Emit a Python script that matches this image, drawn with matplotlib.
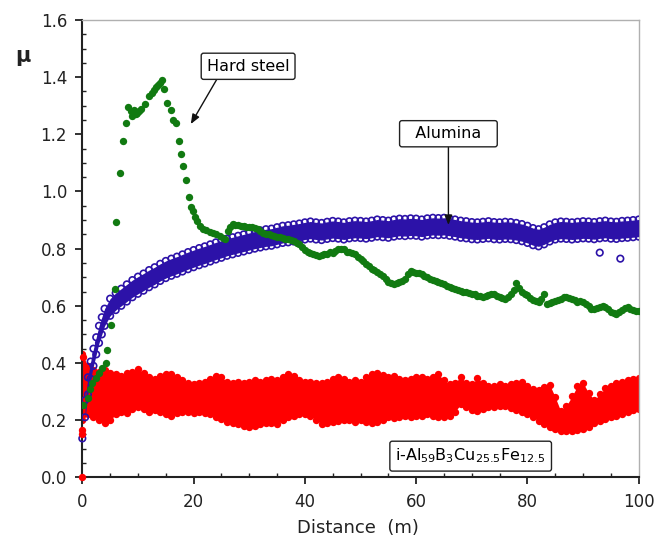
import matplotlib
matplotlib.use("Agg")
import matplotlib.pyplot as plt
from matplotlib.ticker import MultipleLocator, FormatStrFormatter

plt.rcParams['font.family'] = ['DejaVu Sans']
plt.rcParams['mathtext.default'] = 'regular'

# ---------------- data ----------------
# Hard steel (green filled circles)
steel_x = [0.1, 1.0, 1.3, 1.8, 2.4, 3.0, 3.6, 4.2, 4.5, 5.2, 5.8, 6.1, 6.8, 7.3, 7.8, 8.3,
           8.7, 9.0, 9.3, 9.6, 9.9, 10.2, 10.6, 11.3, 11.9, 12.5, 12.8, 13.3, 13.6, 14.0, 14.3,
           14.65, 15.3, 15.9, 16.3, 16.9, 17.35, 17.65, 18.1, 18.7, 19.2, 19.6, 19.9, 20.3,
           20.7, 21.2, 21.7, 22.3, 22.9, 23.5, 24.1, 24.7, 25.3, 25.7, 26.1, 26.5, 27.0, 27.5,
           28.0, 28.5, 29.0, 29.5, 30.0, 30.5, 31.0, 31.5, 32.0, 32.5,
           33.0, 33.5, 34.0, 34.5, 35.0, 35.5, 36.0, 36.5, 37.0, 37.5, 38.0, 38.5, 39.0, 39.5,
           40.0, 40.5, 41.0, 41.5, 42.0, 42.5, 43.0, 43.5, 44.0, 44.5, 45.0, 45.5, 46.0, 46.5,
           47.0, 47.5, 48.0, 48.5, 49.0, 49.5, 50.0, 50.5, 51.0, 51.5, 52.0, 52.5, 53.0, 53.5,
           54.0, 54.5, 55.0, 55.5, 56.0, 56.5, 57.0, 57.5, 58.0, 58.5, 59.0, 59.5, 60.0, 60.5,
           61.0, 61.5, 62.0, 62.5, 63.0, 63.5, 64.0, 64.5, 65.0, 65.5, 66.0, 66.5, 67.0, 67.5,
           68.0, 68.5, 69.0, 69.5, 70.0, 70.5, 71.0, 71.5, 72.0, 72.5, 73.0, 73.5, 74.0, 74.5,
           75.0, 75.5, 76.0, 76.5, 77.0, 77.5, 78.0, 78.5, 79.0, 79.5, 80.0, 80.5, 81.0, 81.5,
           82.0, 82.5, 83.0, 83.5, 84.0, 84.5, 85.0, 85.5, 86.0, 86.5, 87.0, 87.5, 88.0, 88.5,
           89.0, 89.5, 90.0, 90.5, 91.0, 91.5, 92.0, 92.5, 93.0, 93.5, 94.0, 94.5, 95.0, 95.5,
           96.0, 96.5, 97.0, 97.5, 98.0, 98.5, 99.0, 99.5, 100.0]
steel_y = [0.253, 0.276, 0.31, 0.329, 0.347, 0.364, 0.381, 0.399, 0.445, 0.532, 0.658, 0.894,
           1.064, 1.178, 1.238, 1.297, 1.28, 1.265, 1.285, 1.27, 1.275, 1.28, 1.29, 1.306,
           1.335, 1.345, 1.355, 1.365, 1.372, 1.38, 1.39, 1.357, 1.31, 1.285, 1.25, 1.24,
           1.178, 1.131, 1.09, 1.039, 0.981, 0.945, 0.93, 0.91, 0.895, 0.88, 0.87, 0.865,
           0.859, 0.855, 0.85, 0.845, 0.838, 0.832, 0.86, 0.876, 0.886, 0.884, 0.882, 0.88,
           0.879, 0.876, 0.875, 0.874, 0.872, 0.868, 0.862, 0.855,
           0.852, 0.85, 0.846, 0.843, 0.842, 0.84, 0.838, 0.835, 0.832, 0.83, 0.826, 0.82,
           0.815, 0.805, 0.795, 0.79, 0.785, 0.781, 0.779, 0.776, 0.777, 0.781, 0.783, 0.787,
           0.786, 0.792, 0.797, 0.80, 0.798, 0.79, 0.787, 0.784, 0.78, 0.772, 0.765, 0.757,
           0.748, 0.738, 0.73, 0.724, 0.718, 0.71, 0.705, 0.695, 0.682, 0.679, 0.678, 0.68,
           0.683, 0.688, 0.695, 0.71, 0.722, 0.718, 0.715, 0.716, 0.713, 0.705, 0.70, 0.695,
           0.69, 0.688, 0.685, 0.68, 0.675, 0.67, 0.665, 0.661, 0.658, 0.655, 0.652, 0.65,
           0.648, 0.645, 0.643, 0.64, 0.636, 0.633, 0.631, 0.634, 0.637, 0.641, 0.643, 0.636,
           0.63, 0.626, 0.623, 0.63, 0.64, 0.655, 0.68, 0.662, 0.65, 0.643, 0.637, 0.628,
           0.62, 0.616, 0.614, 0.625, 0.643, 0.605, 0.61, 0.614, 0.618, 0.622, 0.625, 0.63,
           0.632, 0.628, 0.625, 0.62, 0.615, 0.616, 0.614, 0.605, 0.598, 0.59, 0.588, 0.592,
           0.595, 0.598, 0.596, 0.588, 0.58, 0.576, 0.573, 0.578, 0.585, 0.592, 0.596, 0.59,
           0.585, 0.583, 0.581]

# Alumina (blue open circles): band upper / lower edges
alu_x = [0.5, 1, 1.5, 2, 2.5, 3, 3.5, 4] + list(range(5, 101))
alu_top = [0.27, 0.35, 0.405, 0.45, 0.49, 0.53, 0.56, 0.59,
           0.625, 0.645, 0.66, 0.675, 0.69, 0.702, 0.713, 0.725, 0.735, 0.747, 0.757, 0.765,
           0.772, 0.78, 0.788, 0.795, 0.802, 0.808, 0.815, 0.822, 0.828, 0.835, 0.84, 0.845,
           0.85, 0.855, 0.86, 0.864, 0.868, 0.87, 0.875, 0.88, 0.882, 0.885, 0.888, 0.892,
           0.895, 0.892, 0.89, 0.894, 0.897, 0.895, 0.892, 0.896, 0.898, 0.897, 0.895, 0.898,
           0.902, 0.9, 0.898, 0.902, 0.905, 0.904, 0.906, 0.905, 0.902, 0.906, 0.908, 0.907,
           0.908, 0.905, 0.902, 0.898, 0.896, 0.893, 0.892, 0.894, 0.896, 0.893, 0.892, 0.894,
           0.893, 0.89, 0.886, 0.88, 0.872, 0.868, 0.875, 0.885, 0.892, 0.895, 0.894, 0.892,
           0.894, 0.896, 0.895, 0.893, 0.896, 0.898, 0.895, 0.894, 0.897, 0.898, 0.9, 0.902]
alu_bot = [0.21, 0.29, 0.345, 0.39, 0.43, 0.47, 0.50, 0.53,
           0.565, 0.585, 0.60, 0.615, 0.63, 0.642, 0.653, 0.665, 0.675, 0.687, 0.697, 0.705,
           0.712, 0.72, 0.728, 0.735, 0.742, 0.748, 0.755, 0.762, 0.768, 0.775, 0.78, 0.785,
           0.79, 0.795, 0.80, 0.804, 0.808, 0.81, 0.815, 0.82, 0.822, 0.825, 0.828, 0.832,
           0.835, 0.832, 0.83, 0.834, 0.837, 0.835, 0.832, 0.836, 0.838, 0.837, 0.835, 0.838,
           0.842, 0.84, 0.838, 0.842, 0.845, 0.844, 0.846, 0.845, 0.842, 0.846, 0.848, 0.847,
           0.848, 0.845, 0.842, 0.838, 0.836, 0.833, 0.832, 0.834, 0.836, 0.833, 0.832, 0.834,
           0.833, 0.83, 0.826, 0.82, 0.812, 0.808, 0.815, 0.825, 0.832, 0.835, 0.834, 0.832,
           0.834, 0.836, 0.835, 0.833, 0.836, 0.838, 0.835, 0.834, 0.837, 0.838, 0.84, 0.842]
alu_out_x = [0.0, 93.0, 96.7]
alu_out_y = [0.136, 0.786, 0.765]

# i-Al59B3Cu25.5Fe12.5 (red filled circles): band upper / lower edges
qc_x = list(range(0, 101))
qc_top = [0.43, 0.39, 0.375, 0.37, 0.375, 0.365, 0.36, 0.355, 0.365, 0.37, 0.38, 0.365, 0.35,
          0.345, 0.355, 0.36, 0.36, 0.35, 0.34, 0.33, 0.325, 0.33, 0.335, 0.345, 0.355, 0.35,
          0.335, 0.33, 0.335, 0.33, 0.335, 0.34, 0.335, 0.34, 0.345, 0.34, 0.35, 0.36, 0.355,
          0.34, 0.335, 0.335, 0.33, 0.33, 0.335, 0.345, 0.352, 0.345, 0.335, 0.34, 0.335,
          0.35, 0.362, 0.365, 0.358, 0.35, 0.355, 0.345, 0.34, 0.345, 0.35, 0.35, 0.345,
          0.352, 0.36, 0.34, 0.325, 0.33, 0.352, 0.33, 0.325, 0.347, 0.33, 0.32, 0.318,
          0.325, 0.32, 0.325, 0.33, 0.335, 0.32, 0.31, 0.307, 0.315, 0.324, 0.28, 0.231,
          0.25, 0.283, 0.32, 0.33, 0.295, 0.271, 0.29, 0.312, 0.32, 0.33, 0.335, 0.34,
          0.345, 0.347]
qc_bot = [0.2, 0.22, 0.21, 0.2, 0.19, 0.2, 0.22, 0.23, 0.225, 0.24, 0.245, 0.24, 0.23, 0.235,
          0.23, 0.22, 0.215, 0.225, 0.23, 0.23, 0.225, 0.23, 0.225, 0.22, 0.21, 0.205, 0.195,
          0.19, 0.185, 0.18, 0.175, 0.18, 0.185, 0.19, 0.19, 0.185, 0.2, 0.21, 0.215, 0.22,
          0.22, 0.215, 0.2, 0.188, 0.19, 0.195, 0.198, 0.2, 0.2, 0.195, 0.2, 0.195, 0.19,
          0.192, 0.2, 0.21, 0.208, 0.21, 0.215, 0.21, 0.215, 0.216, 0.22, 0.215, 0.21, 0.21,
          0.215, 0.23, 0.255, 0.245, 0.235, 0.233, 0.24, 0.245, 0.245, 0.25, 0.248, 0.242,
          0.235, 0.228, 0.22, 0.21, 0.198, 0.185, 0.175, 0.168, 0.163, 0.163, 0.163, 0.166,
          0.17, 0.175, 0.19, 0.198, 0.204, 0.21, 0.216, 0.22, 0.23, 0.235, 0.24]
qc_out_x = [0.0, 0.0, 0.0, 0.2]
qc_out_y = [0.0, 0.15, 0.165, 0.42]

x_ticks = [0, 20, 40, 60, 80, 100]
y_ticks = [0.0, 0.2, 0.4, 0.6, 0.8, 1.0, 1.2, 1.4, 1.6]

GREEN = '#117a11'
BLUE = '#2c12a8'
RED = '#ff0000'

# ---------------- figure ----------------
fig = plt.figure(figsize=(6.66, 5.49), dpi=100)
ax = fig.add_axes([0.1236, 0.1306, 0.8354, 0.8330])

ms = 28
# red band
ax.fill_between(qc_x, qc_bot, qc_top, color=RED, lw=0, zorder=2)
ax.scatter(qc_x, qc_top, s=ms, color=RED, lw=0, zorder=2)
ax.scatter(qc_x, qc_bot, s=ms, color=RED, lw=0, zorder=2)
ax.scatter(qc_out_x, qc_out_y, s=ms, color=RED, lw=0, zorder=5, clip_on=False)

# blue band
ax.fill_between(alu_x, alu_bot, alu_top, color=BLUE, lw=0, zorder=3)
ax.scatter(alu_x, alu_top, s=22, facecolors='none', edgecolors=BLUE, lw=1.2, zorder=3)
ax.scatter(alu_x, alu_bot, s=22, facecolors='none', edgecolors=BLUE, lw=1.2, zorder=3)
ax.scatter(alu_out_x, alu_out_y, s=22, facecolors='none', edgecolors=BLUE, lw=1.2, zorder=3,
           clip_on=False)

# green points
ax.scatter(steel_x, steel_y, s=ms, color=GREEN, lw=0, zorder=4)

ax.set_xlim(0, 100)
ax.set_ylim(0, 1.6)
ax.set_xticks(x_ticks)
ax.set_yticks(y_ticks)
ax.yaxis.set_major_formatter(FormatStrFormatter('%.1f'))
ax.xaxis.set_minor_locator(MultipleLocator(5))
ax.yaxis.set_minor_locator(MultipleLocator(0.05))
ax.tick_params(which='major', direction='out', length=5, width=1.3, labelsize=12,
               colors='#222222', pad=6)
ax.tick_params(which='minor', direction='in', length=3, width=1.0, colors='#222222')

for s in ['left', 'bottom']:
    ax.spines[s].set_color('#222222')
    ax.spines[s].set_linewidth(1.5)
for s in ['top', 'right']:
    ax.spines[s].set_color('#b0b0b0')
    ax.spines[s].set_linewidth(1.0)

box = dict(boxstyle='round,pad=0.35,rounding_size=0.15', fc='white', ec='#222222', lw=1.0)
ax.annotate('Hard steel', xy=(19.5, 1.236), xytext=(29.8, 1.438), ha='center', va='center',
            fontsize=11.5, bbox=box, zorder=6,
            arrowprops=dict(arrowstyle='-|>,head_length=0.5,head_width=0.2', color='#111111',
                            lw=1.0, relpos=(0.16, 0.0), shrinkA=0, shrinkB=0))
ax.annotate('  Alumina  ', xy=(65.8, 0.883), xytext=(65.8, 1.202), ha='center', va='center',
            fontsize=11.5, bbox=box, zorder=6,
            arrowprops=dict(arrowstyle='-|>,head_length=0.5,head_width=0.2', color='#111111',
                            lw=1.0, relpos=(0.5, 0.0), shrinkA=0, shrinkB=0))
ax.text(69.8, 0.074, r'i-Al$_{59}$B$_{3}$Cu$_{25.5}$Fe$_{12.5}$', ha='center', va='center',
        fontsize=11.5, bbox=box, zorder=6)

fig.text(0.034, 0.898, 'μ', fontsize=15, fontweight='bold', ha='center', va='center',
         color='#222222')
fig.text(0.538, 0.038, 'Distance  (m)', fontsize=13, ha='center', va='center', color='#222222')

fig.savefig('out.png', dpi=100)
